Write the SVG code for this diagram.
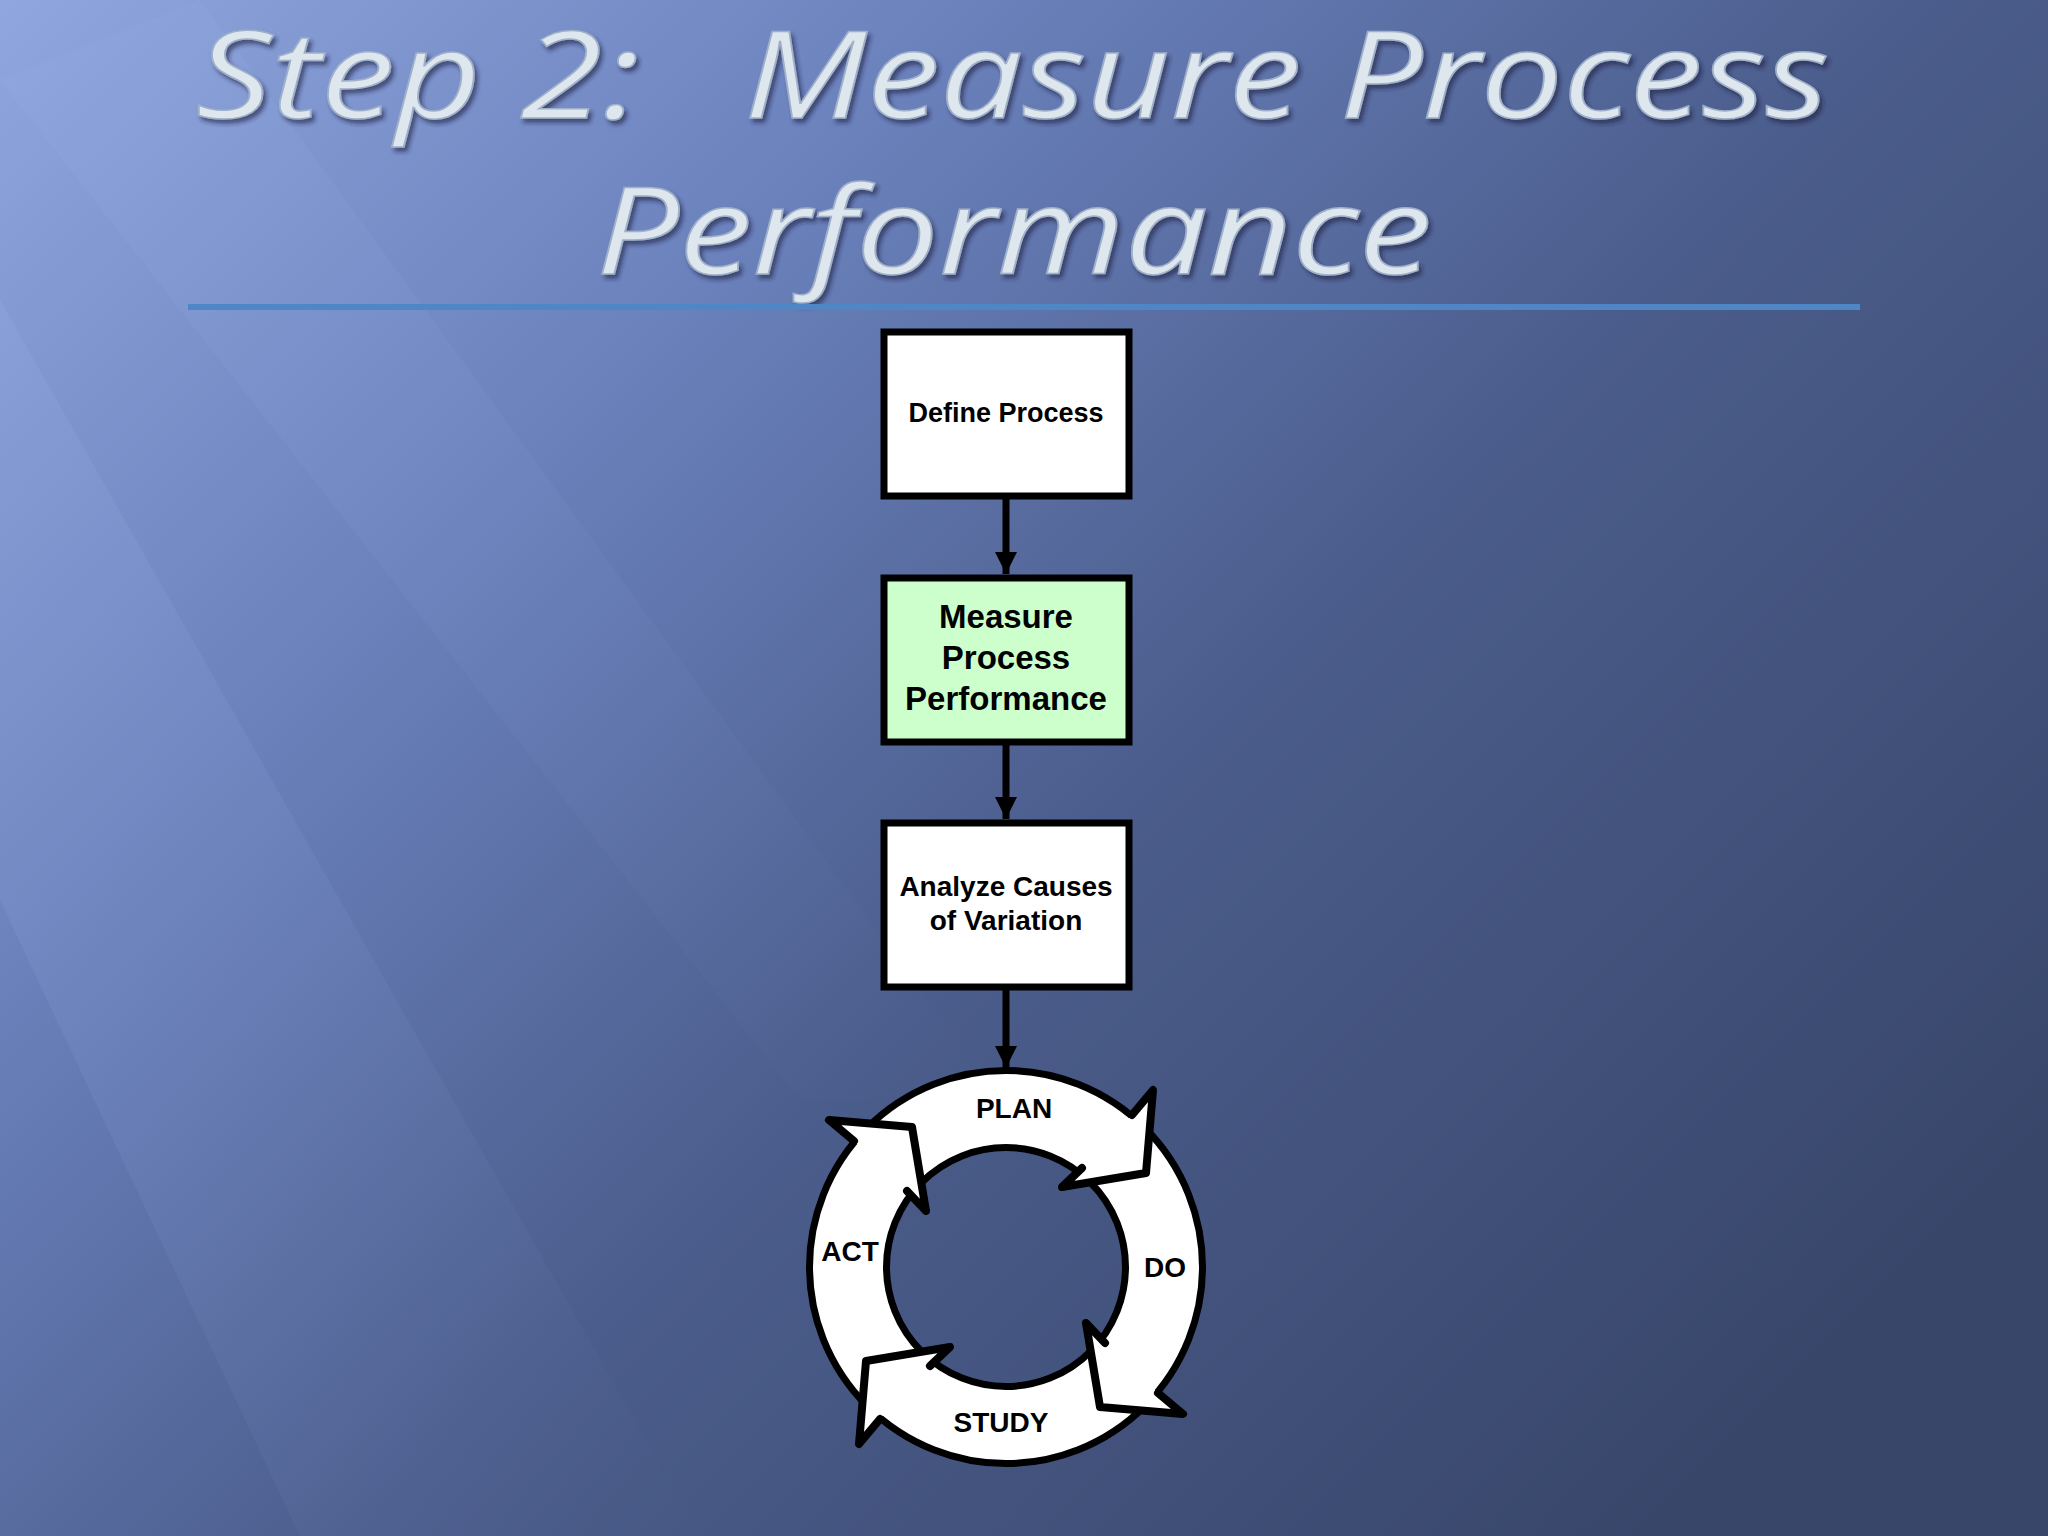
<svg xmlns="http://www.w3.org/2000/svg" width="2048" height="1536" viewBox="0 0 2048 1536">
<defs>
<linearGradient id="bg" x1="0" y1="0" x2="1" y2="0.75">
<stop offset="0" stop-color="#8fa6de"/>
<stop offset="0.3" stop-color="#6b82bd"/>
<stop offset="0.6" stop-color="#4b5d8c"/>
<stop offset="1" stop-color="#38466a"/>
</linearGradient>
<linearGradient id="streak" x1="0" y1="0" x2="1" y2="1">
<stop offset="0" stop-color="#9fb4ea" stop-opacity="0.5"/>
<stop offset="1" stop-color="#9fb4ea" stop-opacity="0"/>
</linearGradient>
<marker id="ah" viewBox="0 0 10 10" refX="10" refY="5" markerWidth="3.2" markerHeight="3.2" orient="auto" markerUnits="strokeWidth">
<path d="M0,0 L10,5 L0,10 z" fill="#000"/>
</marker>
<filter id="sh"><feDropShadow dx="3" dy="4" stdDeviation="2" flood-color="#1a2340" flood-opacity="0.6"/></filter>
<g id="head">
<polygon points="126,-152 147,-177 140,-94 56,-80 76,-99" fill="#fff" stroke="none"/>
<polyline points="126,-152 147,-177 140,-94 56,-80 76,-99" fill="none" stroke="#000" stroke-width="8" stroke-linejoin="round" stroke-linecap="round"/>
</g>
</defs>
<style>
.box{stroke:#000;stroke-width:7}
.t{font-family:"Liberation Sans",Arial,sans-serif;font-weight:bold;text-anchor:middle;fill:#000}
.title{font-family:"Open Sans","DejaVu Sans",sans-serif;font-style:italic;fill:#dfe7ee;stroke:#9fb0c8;stroke-width:1.5;font-size:120px}
.con{stroke:#000;stroke-width:7;fill:none}
</style>
<rect width="2048" height="1536" fill="url(#bg)"/>
<polygon points="0,300 700,1536 300,1536 0,900" fill="url(#streak)" opacity="0.35"/>
<polygon points="200,0 1000,1100 800,1100 0,80" fill="url(#streak)" opacity="0.25"/>
<g id="title" filter="url(#sh)">
<text class="title" x="196" y="118" textLength="444" lengthAdjust="spacingAndGlyphs">Step 2:</text>
<text class="title" x="744" y="118" textLength="1085" lengthAdjust="spacingAndGlyphs">Measure Process</text>
<text class="title" x="596" y="274" textLength="836" lengthAdjust="spacingAndGlyphs">Performance</text>
</g>
<rect x="188" y="304" width="1672" height="6" fill="#4f86c6"/>
<g id="connectors">
<line class="con" x1="1006" y1="498" x2="1006" y2="574" marker-end="url(#ah)"/>
<line class="con" x1="1006" y1="743" x2="1006" y2="819" marker-end="url(#ah)"/>
<line class="con" x1="1006" y1="989" x2="1006" y2="1068" marker-end="url(#ah)"/>
</g>
<g id="define">
<rect class="box" x="884" y="332" width="245" height="164" fill="#fff"/>
<text class="t" x="1006" y="422" font-size="27">Define Process</text>
</g>
<g id="measure">
<rect class="box" x="884" y="578" width="245" height="164" fill="#ccffcc"/>
<text class="t" x="1006" y="628" font-size="33">Measure</text>
<text class="t" x="1006" y="669" font-size="33">Process</text>
<text class="t" x="1006" y="710" font-size="33">Performance</text>
</g>
<g id="analyze">
<rect class="box" x="884" y="823" width="245" height="164" fill="#fff"/>
<text class="t" x="1006" y="896" font-size="28">Analyze Causes</text>
<text class="t" x="1006" y="930" font-size="28">of Variation</text>
</g>
<g id="cycle">
<circle cx="1006" cy="1267" r="158" fill="none" stroke="#000" stroke-width="84"/>
<circle cx="1006" cy="1267" r="158" fill="none" stroke="#fff" stroke-width="70"/>
<g transform="translate(1006,1267)">
<use href="#head"/>
<use href="#head" transform="rotate(90)"/>
<use href="#head" transform="rotate(180)"/>
<use href="#head" transform="rotate(270)"/>
</g>
<text class="t" x="1014" y="1118" font-size="28">PLAN</text>
<text class="t" x="1165" y="1277" font-size="28">DO</text>
<text class="t" x="1001" y="1432" font-size="28">STUDY</text>
<text class="t" x="850" y="1261" font-size="28">ACT</text>
</g>
</svg>
